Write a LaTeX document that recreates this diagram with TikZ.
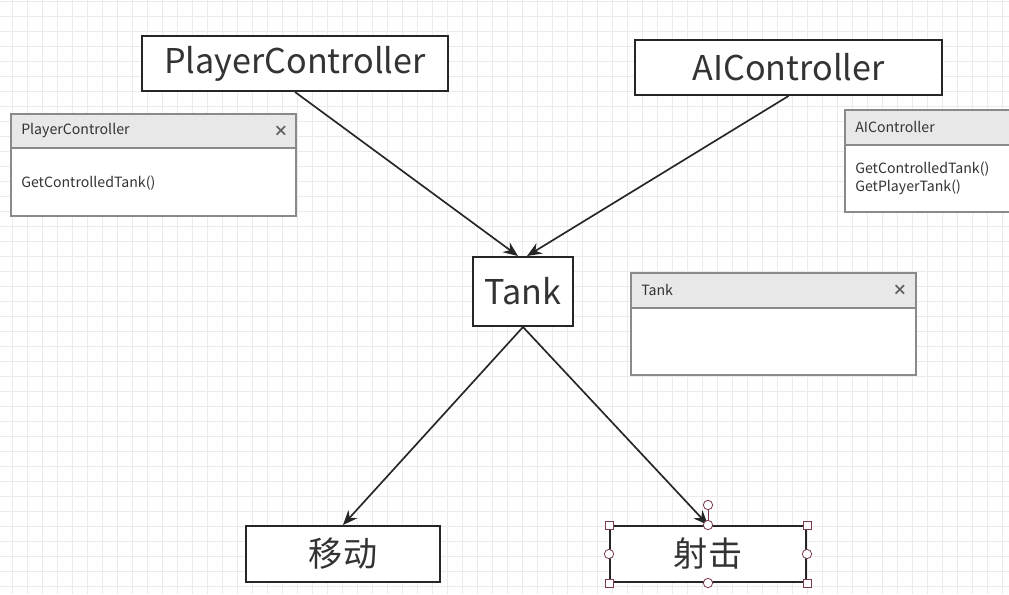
\documentclass[tikz,border=0pt]{standalone}
\usepackage{fontspec}
\setmainfont{Noto Sans CJK SC}
\usetikzlibrary{arrows.meta,calc}
\definecolor{gridc}{HTML}{EBEBEB}
\definecolor{boxc}{HTML}{262626}
\definecolor{txtc}{HTML}{333333}
\definecolor{panc}{HTML}{8A8A8A}
\definecolor{panh}{HTML}{E8E8E8}
\definecolor{selc}{HTML}{7A3A4A}
\tikzset{
  mainbox/.style={draw=boxc, line width=1.5pt, fill=white, text=txtc, inner sep=0pt,
     font=\fontsize{25.6}{30}\selectfont},
  conn/.style={draw=boxc, line width=1.25pt, -{Stealth[length=11pt,width=9pt]}},
  panel/.style={draw=panc, line width=1.4pt, fill=white},
  panhead/.style={draw=panc, line width=1.4pt, fill=panh},
  pantext/.style={anchor=west, text=txtc, inner sep=0pt, font=\fontsize{10.6}{13}\selectfont},
  closex/.style={text=txtc!80, inner sep=0pt, font=\fontsize{11}{12}\selectfont\bfseries},
  handlesq/.style={draw=selc, fill=white, line width=0.6pt, minimum size=6pt, inner sep=0pt, rectangle},
  handleci/.style={draw=selc, fill=white, line width=0.6pt, minimum size=7pt, inner sep=0pt, circle},
}
\begin{document}
\begin{tikzpicture}[x=0.75pt,y=-0.75pt]
\useasboundingbox (0,0) rectangle (1009,594);
\fill[white] (0,0) rectangle (1009,594);
% grid
\foreach \gx in {0,...,66} {\draw[gridc, line width=0.6pt] ({12+15*\gx},0) -- ({12+15*\gx},594);}
\foreach \gy in {0,...,39} {\draw[gridc, line width=0.6pt] (0,{1.5+15*\gy}) -- (1009,{1.5+15*\gy});}

% main nodes
\node[mainbox, minimum width=229.5pt, minimum height=41.25pt] (pc) at (295,63.5) {PlayerController};
\node[mainbox, minimum width=230.25pt, minimum height=41.25pt] (ai) at (788.5,67.5) {AIController};
\node[mainbox, minimum width=75pt, minimum height=51.75pt] (tank) at (523,291.5) {Tank};
\node[mainbox, minimum width=145.5pt, minimum height=42pt] (mv) at (343,554) {移动};
\node[mainbox, minimum width=147pt, minimum height=42pt] (sj) at (708,554) {射击};

% connectors
\draw[conn] (pc.south) -- ($(tank.north)+(-5,0)$);
\draw[conn] (ai.south) -- ($(tank.north)+(4,0)$);
\draw[conn] (tank.south) -- (mv.north);
\draw[conn] (tank.south) -- (sj.north);

% selection handles on sj
\coordinate (rot) at ($(sj.north)+(0,-20)$);
\draw[selc, line width=0.6pt] (sj.north) -- (rot);
\node[handleci] (h0) at (rot) {};
\node[handlesq] (h1) at (sj.north west) {};
\node[handlesq] (h2) at (sj.north east) {};
\node[handlesq] (h3) at (sj.south west) {};
\node[handlesq] (h4) at (sj.south east) {};
\node[handleci] (h5) at (sj.north) {};
\node[handleci] (h6) at (sj.south) {};
\node[handleci] (h7) at (sj.west) {};
\node[handleci] (h8) at (sj.east) {};

% panel PlayerController
\draw[panel] (11,114) rectangle (296,216);
\draw[panhead] (11,114) rectangle (296,148);
\node[pantext] (p1t) at (21,131) {PlayerController};
\node[closex] (p1x) at (281,131) {×};
\node[pantext] (p1b) at (21,183) {GetControlledTank()};

% panel AIController
\draw[panel] (845,110) rectangle (1014,212);
\draw[panhead] (845,110) rectangle (1014,145);
\node[pantext] (p2t) at (855,127) {AIController};
\node[pantext] (p2b) at (855,169) {GetControlledTank()};
\node[pantext] (p2c) at (855,187) {GetPlayerTank()};

% panel Tank
\draw[panel] (631,273) rectangle (916,375);
\draw[panhead] (631,273) rectangle (916,308);
\node[pantext] (p3t) at (641,290) {Tank};
\node[closex] (p3x) at (900,290) {×};
\end{tikzpicture}
\end{document}
